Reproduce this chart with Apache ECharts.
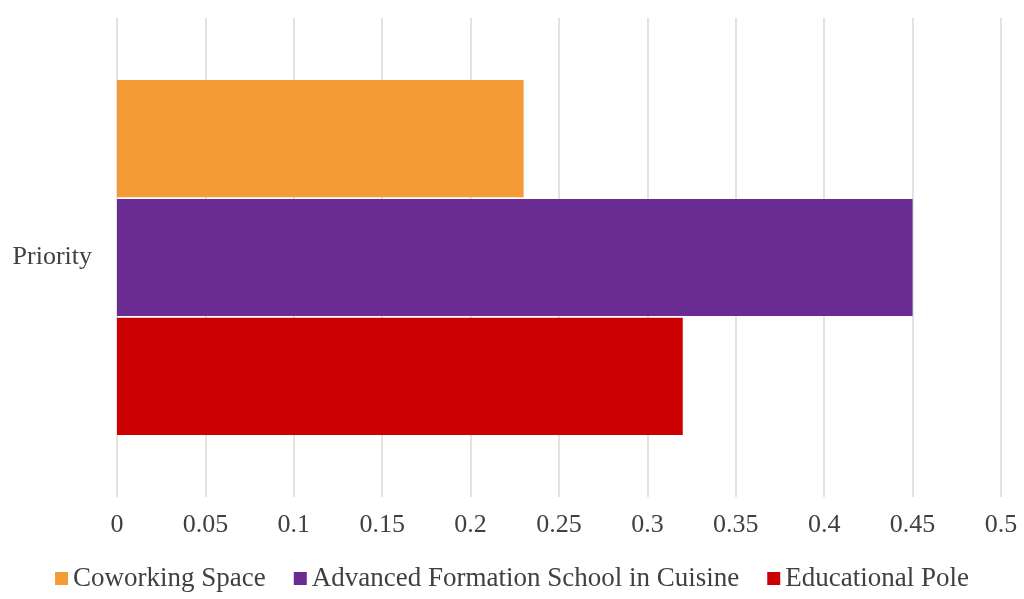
<!DOCTYPE html>
<html>
<head>
<meta charset="utf-8">
<script src="https://cdn.jsdelivr.net/npm/echarts@6/dist/echarts.min.js"></script>
<style>
  html, body { margin: 0; padding: 0; background: #fff; }
  #chart { width: 1024px; height: 599px; }
</style>
</head>
<body>
<div id="chart"></div>
<script>
  const categories = ['Priority']
  const seriesNames = ['Coworking Space', 'Advanced Formation School in Cuisine', 'Educational Pole']
  const seriesValues = [[0.23], [0.45], [0.32]]
  const seriesColors = ['#F59B36', '#6A2C92', '#CC0000']
  const tickMax = 0.5
  const tickStep = 0.05

  const font = 'Liberation Serif'

  const myChart = echarts.init(document.getElementById('chart'))
  myChart.setOption({
    animation: false,
    textStyle: { fontFamily: font },
    legend: {
      bottom: 2,
      left: 'center',
      itemWidth: 13,
      itemHeight: 13,
      itemGap: 28,
      icon: 'rect',
      textStyle: { fontFamily: font, fontSize: 27, color: '#404040' },
      data: seriesNames
    },
    grid: { left: 117, right: 23, top: 18, bottom: 102 },
    xAxis: {
      type: 'value',
      min: 0,
      max: tickMax,
      interval: tickStep,
      axisLine: { show: false },
      axisTick: { show: false },
      axisLabel: { fontFamily: font, fontSize: 26, color: '#404040', margin: 15 },
      splitLine: { lineStyle: { color: '#D9D9D9', width: 1.5 } }
    },
    yAxis: {
      type: 'category',
      inverse: true,
      data: categories,
      axisLine: { show: false },
      axisTick: { show: false },
      axisLabel: { fontFamily: font, fontSize: 26, color: '#404040', margin: 25 }
    },
    series: seriesNames.map((name, i) => ({
      name: name,
      type: 'bar',
      data: seriesValues[i],
      barCategoryGap: '25.9%',
      barGap: '1.5%',
      itemStyle: { color: seriesColors[i] }
    }))
  })
</script>
</body>
</html>
